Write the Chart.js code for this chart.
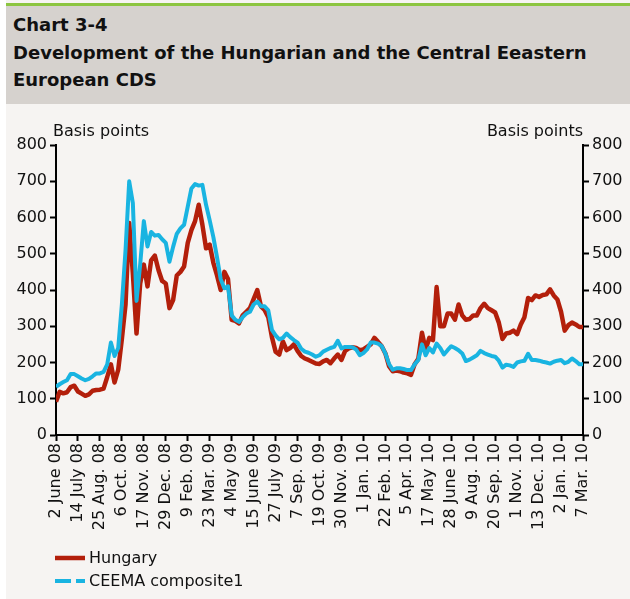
<!DOCTYPE html>
<html>
<head>
<meta charset="utf-8">
<script src="https://cdn.jsdelivr.net/npm/chart.js@4"></script>
<style>
  body { margin: 0; background: #fff; font-family: "DejaVu Sans", sans-serif; }
  #page { position: absolute; left: 6px; top: 0; width: 624px; height: 599px; background: #f6f4f2; }
  #head { position: absolute; left: 6px; top: 3px; width: 624px; height: 101px;
          background: #d6d2ce; border-top: 3px solid #8cc540; box-sizing: border-box; }
  #head div { position: absolute; left: 7px; font-weight: bold; font-size: 18px; color: #111; white-space: nowrap; }
  #wrap { position: absolute; left: 0; top: 108px; width: 630px; height: 440px; }
  #legend { position: absolute; left: 55px; top: 546px; font-size: 16px; color: #111; }
  .item { height: 23px; display: flex; align-items: center; }
  .item canvas { margin-right: 4px; }
</style>
</head>
<body>
<div id="page"></div>
<div id="head">
  <div style="top:8px">Chart 3-4</div>
  <div style="top:36px">Development of the Hungarian and the Central Eeastern</div>
  <div style="top:63px">European CDS</div>
</div>
<div id="wrap"><canvas id="cds"></canvas></div>
<div id="legend"></div>
<script>
// tick labels every 6 weeks (weekly data, week 0 = 2 June 08)
var xLabels = ["2 June 08", "14 July 08", "25 Aug. 08", "6 Oct. 08", "17 Nov. 08", "29 Dec. 08",
    "9 Feb. 09", "23 Mar. 09", "4 May 09", "15 June 09", "27 July 09", "7 Sep. 09", "19 Oct. 09",
    "30 Nov. 09", "1 Jan. 10", "22 Feb. 10", "5 Apr. 10", "17 May 10", "28 June 10", "9 Aug. 10",
    "20 Sep. 10", "1 Nov. 10", "13 Dec. 10", "2 Jan. 10", "7 Mar. 10"];
var yTicks = [0, 100, 200, 300, 400, 500, 600, 700, 800];

var hungary = [92, 119, 115, 118, 132, 136, 120, 114, 108, 112, 122, 124, 125, 128, 160, 195,
    145, 180, 265, 360, 585, 445, 280, 418, 470, 410, 482, 495, 455, 425, 418, 350,
    372, 440, 450, 465, 530, 565, 590, 635, 580, 515, 525, 475, 440, 400, 450, 430,
    318, 315, 308, 330, 340, 350, 375, 400, 355, 345, 325, 270, 230, 222, 258, 234,
    240, 250, 232, 218, 211, 207, 202, 197, 196, 203, 207, 198, 211, 222, 207, 232,
    239, 242, 240, 234, 236, 243, 250, 268, 257, 245, 225, 190, 176, 178, 176, 172,
    170, 166, 195, 210, 282, 235, 268, 262, 408, 300, 300, 335, 335, 318, 360, 330,
    318, 320, 330, 330, 350, 362, 350, 344, 338, 310, 265, 280, 282, 288, 278, 305,
    325, 378, 372, 385, 381, 386, 388, 402, 385, 374, 340, 288, 303, 310, 305, 298, 298];

var ceema = [133, 140, 146, 151, 168, 168, 162, 156, 151, 155, 162, 170, 170, 174, 195, 255,
    218, 240, 360, 510, 700, 640, 370, 470, 590, 520, 560, 550, 552, 540, 530, 478,
    519, 555, 570, 580, 630, 680, 692, 688, 690, 635, 592, 546, 490, 430, 405, 410,
    330, 318, 312, 325, 335, 340, 360, 368, 355, 355, 344, 290, 275, 264, 268, 280,
    270, 262, 255, 238, 230, 227, 222, 216, 220, 230, 235, 240, 243, 260, 239, 243,
    243, 242, 236, 220, 226, 236, 255, 255, 252, 245, 225, 196, 180, 184, 184, 182,
    179, 179, 195, 207, 250, 220, 240, 228, 252, 240, 222, 234, 245, 240, 234, 225,
    204, 208, 214, 220, 232, 226, 222, 218, 216, 205, 186, 194, 192, 188, 200, 203,
    205, 224, 207, 207, 205, 202, 200, 197, 202, 205, 207, 198, 202, 211, 204, 195, 195];

var RED = '#b31f0b';
var CYAN = '#19b4e1';
var FONT = { family: 'DejaVu Sans', size: 16 };

function points(arr) {
    return arr.map(function (v, i) { return { x: i, y: v }; });
}

// "Basis points" above both value axes
var axisNotes = {
    id: 'axisNotes',
    afterDraw: function (chart) {
        var ctx = chart.ctx, a = chart.chartArea;
        ctx.save();
        ctx.font = '16px "DejaVu Sans"';
        ctx.fillStyle = '#111';
        ctx.textBaseline = 'alphabetic';
        ctx.textAlign = 'left';
        ctx.fillText('Basis points', a.left - 3, a.top - 9);
        ctx.textAlign = 'right';
        ctx.fillText('Basis points', a.right, a.top - 9);
        ctx.restore();
    }
};

var yAxis = function (pos, w) {
    return {
        position: pos,
        min: 0, max: 800,
        afterBuildTicks: function (s) { s.ticks = yTicks.map(function (v) { return { value: v }; }); },
        afterFit: function (s) { s.width = w; },
        border: { display: true, color: '#000', width: 2 },
        grid: { drawOnChartArea: false, drawTicks: true, tickLength: 6, tickColor: '#000', tickWidth: 2 },
        ticks: { color: '#111', font: FONT, padding: 3 }
    };
};

var chart = new Chart(document.getElementById('cds'), {
    type: 'line',
    data: {
        datasets: [{
            label: 'Hungary',
            data: points(hungary),
            borderColor: RED,
            borderWidth: 4.5,
            order: 2
        }, {
            label: 'CEEMA composite1',
            data: points(ceema),
            borderColor: CYAN,
            borderWidth: 4,
            order: 1,
            legendDash: [16, 5]
        }]
    },
    options: {
        responsive: true,
        maintainAspectRatio: false,
        animation: false,
        layout: { padding: { top: 37, left: 0, right: 0, bottom: 0 } },
        elements: { point: { radius: 0 }, line: { tension: 0, borderJoinStyle: 'round' } },
        plugins: { legend: { display: false }, tooltip: { enabled: false } },
        scales: {
            x: {
                type: 'linear',
                min: 0, max: (xLabels.length - 1) * 6,
                afterBuildTicks: function (s) {
                    s.ticks = xLabels.map(function (l, i) { return { value: i * 6 }; });
                },
                afterFit: function (s) { s.height = 113; },
                border: { display: true, color: '#000', width: 2 },
                grid: { drawOnChartArea: false, drawTicks: true, tickLength: 6, tickColor: '#000', tickWidth: 2 },
                ticks: {
                    color: '#111', font: FONT, padding: 2,
                    autoSkip: false, maxRotation: 90, minRotation: 90,
                    callback: function (v) { return xLabels[Math.round(v / 6)]; }
                }
            },
            y: yAxis('left', 56),
            y2: yAxis('right', 47)
        }
    },
    plugins: [axisNotes]
});

// legend stacked under the chart
var legend = document.getElementById('legend');
chart.data.datasets.forEach(function (ds) {
    var row = document.createElement('div');
    row.className = 'item';
    var c = document.createElement('canvas');
    c.width = 30; c.height = 10;
    var g = c.getContext('2d');
    g.strokeStyle = ds.borderColor;
    g.lineWidth = ds.borderWidth;
    if (ds.legendDash) g.setLineDash(ds.legendDash);
    g.beginPath(); g.moveTo(0, 5); g.lineTo(30, 5); g.stroke();
    row.appendChild(c);
    row.appendChild(document.createTextNode(ds.label));
    legend.appendChild(row);
});
</script>
</body>
</html>
